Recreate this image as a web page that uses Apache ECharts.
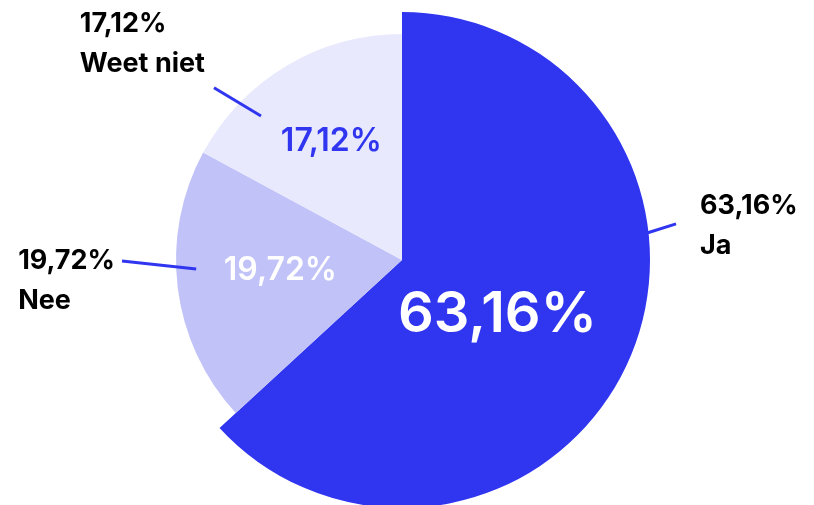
<!DOCTYPE html>
<html>
<head>
<meta charset="utf-8">
<script src="https://cdn.jsdelivr.net/npm/echarts@6/dist/echarts.min.js"></script>
<style>
html,body{margin:0;padding:0;background:#fff;}
#chart{width:814px;height:505px;}
</style>
</head>
<body>
<div id="chart"></div>
<script>
// ---- data ----
const categories = ['Ja', 'Nee', 'Weet niet'];
const values = [63.16, 19.72, 17.12];

// ---- styles / layout ----
const colors = ['#3035F0', '#C0C2F8', '#E8E9FD'];
const innerLabelColors = ['#FFFFFF', '#FFFFFF', '#3035F0'];
const FONT = 'Inter, "Noto Sans", sans-serif';
const CX = 402, CY = 260;
const R_BIG = 248, R_SMALL = 226;
// inner label placement (deg clockwise from top, radius px)
const innerAngle = [119.8, 265.3, 329.2];
const innerRadius = [110, 122, 138];
// outer label line geometry
const lineStart = [[83.7, 246.5], [267.5, 206], [315.6, 201.5]];
const lineEnd = [[82.5, 276.4], [269.8, 280], [312.5, 255]];
const labelSide = ['right', 'left', 'left'];
const labelGap = [24, 7, 9];
const labelDy = [2, 19.5, -44];

function pt(a, r) {
  const rad = a * Math.PI / 180;
  return [CX + r * Math.sin(rad), CY - r * Math.cos(rad)];
}
function fmt(v) { return v.toFixed(2).replace('.', ',') + '%'; }

const chart = echarts.init(document.getElementById('chart'));

const bigData = categories.map((c, i) => ({
  name: c, value: values[i],
  itemStyle: { color: i === 0 ? colors[0] : 'rgba(0,0,0,0)' },
  label: { show: i === 0 }
}));
const smallData = categories.map((c, i) => ({
  name: c, value: values[i],
  itemStyle: { color: i === 0 ? 'rgba(0,0,0,0)' : colors[i] },
  label: { show: i !== 0, color: innerLabelColors[i] }
}));
const outerData = categories.map((c, i) => ({
  name: c, value: values[i],
  itemStyle: { color: 'rgba(0,0,0,0)' }
}));

function innerLayout(params) {
  const i = params.dataIndex;
  const p = pt(innerAngle[i], innerRadius[i]);
  return { x: p[0], y: p[1], align: 'center', verticalAlign: 'middle' };
}

const common = {
  type: 'pie',
  center: [CX, CY],
  startAngle: 90,
  clockwise: true,
  silent: true,
  animation: false,
  emphasis: { disabled: true },
  labelLine: { show: false }
};

chart.setOption({
  animation: false,
  series: [
    Object.assign({}, common, {
      name: 'big',
      radius: [0, R_BIG],
      data: bigData,
      z: 1,
      label: {
        position: 'inside',
        formatter: p => fmt(p.value),
        color: '#FFFFFF',
        fontFamily: FONT,
        fontSize: 56,
        fontWeight: 600
      },
      labelLayout: innerLayout
    }),
    Object.assign({}, common, {
      name: 'small',
      radius: [0, R_SMALL],
      data: smallData,
      z: 2,
      label: {
        position: 'inside',
        formatter: p => fmt(p.value),
        fontFamily: FONT,
        fontSize: 32,
        fontWeight: 600
      },
      labelLayout: innerLayout
    }),
    Object.assign({}, common, {
      name: 'outer',
      radius: [0, R_BIG],
      data: outerData,
      z: 3,
      label: {
        show: true,
        position: 'outside',
        formatter: p => fmt(p.value) + '\n' + p.name,
        color: '#000000',
        fontFamily: FONT,
        fontSize: 27,
        fontWeight: 'bold',
        lineHeight: 40,
        align: 'left'
      },
      labelLine: {
        show: true,
        length: 20,
        length2: 10,
        lineStyle: { color: '#3035F0', width: 3 }
      },
      labelLayout: function (params) {
        const i = params.dataIndex;
        const s = pt(lineStart[i][0], lineStart[i][1]);
        const e = pt(lineEnd[i][0], lineEnd[i][1]);
        const w = params.labelRect.width;
        const h = params.labelRect.height;
        const x = labelSide[i] === 'right' ? e[0] + labelGap[i] : e[0] - labelGap[i] - w;
        const y = e[1] + labelDy[i] - h / 2;
        return {
          x: x, y: y, align: 'left', verticalAlign: 'top',
          labelLinePoints: [s, e, e]
        };
      }
    })
  ]
});
</script>
</body>
</html>
